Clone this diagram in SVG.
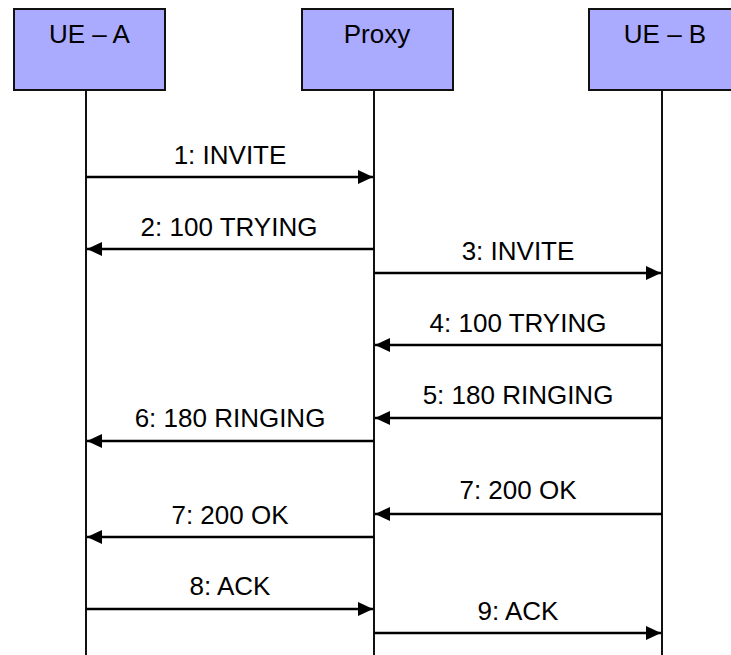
<svg xmlns="http://www.w3.org/2000/svg" width="731" height="655" viewBox="0 0 731 655">
<style>
.box{fill:#aaaaff;stroke:#111;stroke-width:2}
.life{stroke:#111;stroke-width:2;fill:none}
.msg{stroke:#000;stroke-width:2.5;fill:none;marker-end:url(#ah)}
text{font-family:"Liberation Sans",Arial,sans-serif;font-size:26px;fill:#000;text-anchor:middle}
</style>
<defs>
<marker id="ah" markerUnits="userSpaceOnUse" markerWidth="16" markerHeight="16" viewBox="0 0 16 16" refX="15" refY="8" orient="auto">
<path d="M0,1 L15,8 L0,15 Z" fill="#000"/>
</marker>
</defs>
<rect width="731" height="655" fill="#fff"/>
<g id="ue-a">
<line class="life" x1="86" y1="90" x2="86" y2="655"/>
<rect class="box" x="14" y="9" width="151" height="81"/>
<text x="89.5" y="43">UE – A</text>
</g>
<g id="proxy">
<line class="life" x1="374" y1="90" x2="374" y2="655"/>
<rect class="box" x="302" y="9" width="151" height="81"/>
<text x="377" y="43">Proxy</text>
</g>
<g id="ue-b">
<line class="life" x1="662" y1="90" x2="662" y2="655"/>
<rect class="box" x="589" y="9" width="151" height="81"/>
<text x="665" y="43">UE – B</text>
</g>
<g id="connectors">
<line class="msg" x1="86" y1="177" x2="373" y2="177"/>
<text x="230" y="163.5">1: INVITE</text>
<line class="msg" x1="374" y1="249" x2="87" y2="249"/>
<text x="229" y="235.5">2: 100 TRYING</text>
<line class="msg" x1="374" y1="273" x2="661" y2="273"/>
<text x="518" y="259.5">3: INVITE</text>
<line class="msg" x1="662" y1="345" x2="375" y2="345"/>
<text x="518" y="331.5">4: 100 TRYING</text>
<line class="msg" x1="662" y1="418" x2="375" y2="418"/>
<text x="518" y="404">5: 180 RINGING</text>
<line class="msg" x1="374" y1="441" x2="87" y2="441"/>
<text x="230" y="427">6: 180 RINGING</text>
<line class="msg" x1="662" y1="514" x2="375" y2="514"/>
<text x="518" y="499">7: 200 OK</text>
<line class="msg" x1="374" y1="537" x2="87" y2="537"/>
<text x="230" y="523.5">7: 200 OK</text>
<line class="msg" x1="86" y1="609" x2="373" y2="609"/>
<text x="230" y="595">8: ACK</text>
<line class="msg" x1="374" y1="633" x2="661" y2="633"/>
<text x="518" y="620">9: ACK</text>
</g>
</svg>
